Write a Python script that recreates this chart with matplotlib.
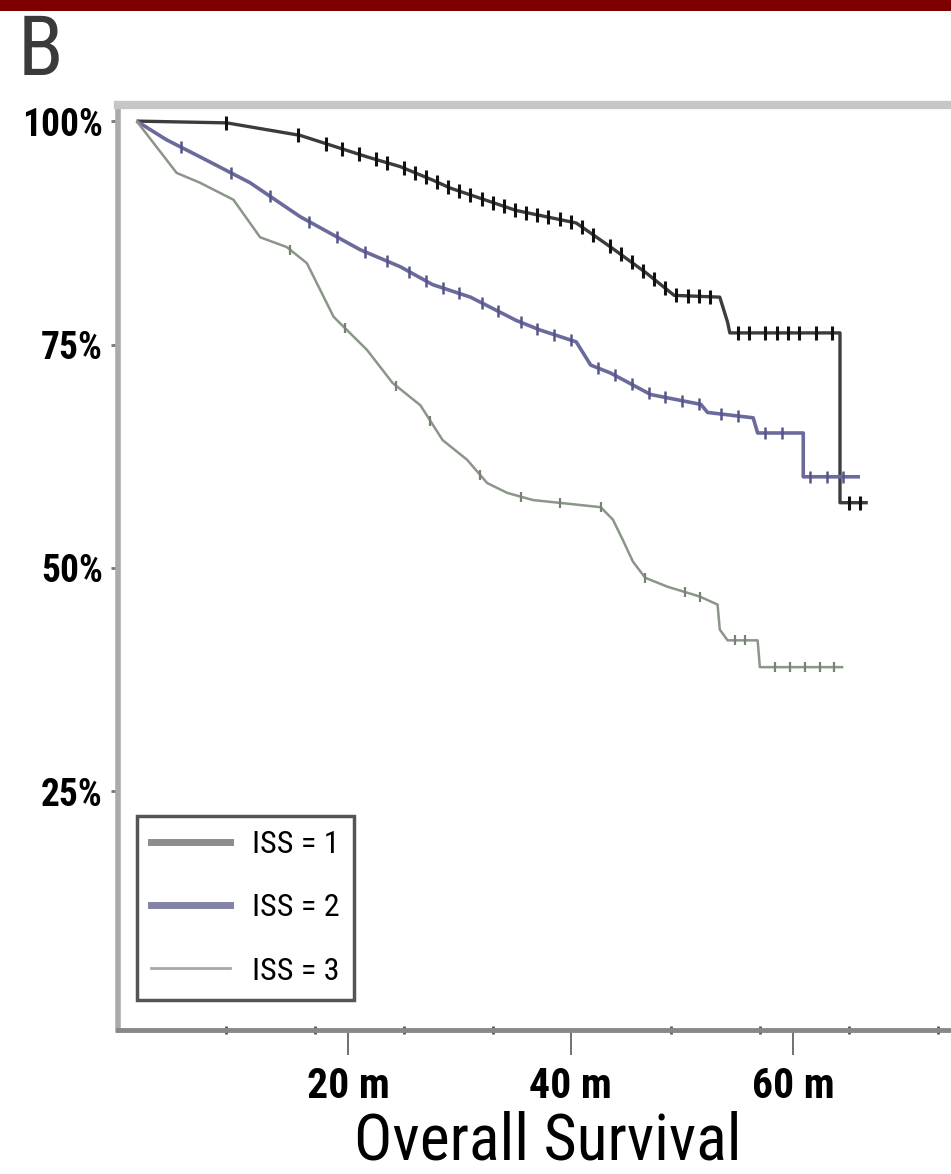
import numpy as np
import matplotlib.pyplot as plt
from matplotlib.patches import Rectangle
from matplotlib.lines import Line2D

# Kaplan-Meier estimates (months, % surviving), ISS stage 1..3
iss1_t = [1.0, 9.1, 15.7, 21.7, 24.7, 27.6, 29.2, 35.1, 40.5, 43.6, 46.8, 49.3,
          53.4, 54.1, 54.3, 64.2, 64.2, 66.7]
iss1_s = [100, 99.8, 98.4, 96.0, 94.9, 93.4, 92.5, 90.0, 88.6, 85.9, 83.0, 80.5,
          80.3, 77.5, 76.3, 76.3, 57.3, 57.3]

iss2_t = [1.0, 3.7, 6.7, 11.2, 15.7, 21.1, 24.7, 27.6, 31.0, 35.1, 37.3, 40.5,
          41.8, 43.6, 47.2, 51.7, 52.3, 56.4, 56.8, 60.9, 60.9, 66.0]
iss2_s = [100, 97.9, 96.0, 93.1, 89.3, 85.6, 83.7, 81.7, 80.3, 77.7, 76.6, 75.3,
          72.7, 71.8, 69.4, 68.3, 67.4, 66.8, 65.1, 65.1, 60.2, 60.2]

iss3_t = [1.0, 2.8, 4.6, 6.7, 9.7, 12.1, 14.5, 16.3, 17.5, 18.7, 21.7, 24.0,
          26.5, 28.5, 30.7, 32.5, 34.3, 36.6, 42.7, 43.8, 44.7, 45.6, 46.7, 48.7,
          51.6, 53.2, 53.4, 54.1, 56.8, 57.0, 64.5]
iss3_s = [100, 97.1, 94.2, 93.1, 91.2, 87.0, 85.9, 84.1, 81.1, 78.1, 74.4, 70.7,
          68.2, 64.3, 62.1, 59.5, 58.4, 57.6, 56.8, 55.4, 53.1, 50.7, 48.9, 47.9,
          46.8, 45.9, 43.1, 41.9, 41.9, 38.9, 38.9]

# censored observations (months)
iss1_cens = [9.0, 15.5, 18.0, 19.5, 21.0, 22.5, 23.5, 25.0, 26.0, 27.0, 28.0,
             29.0, 30.0, 31.0, 32.0, 33.0, 34.0, 35.0, 36.0, 37.0, 38.0, 39.0,
             40.0, 41.0, 42.0, 43.5, 44.5, 45.5, 46.5, 47.5, 48.5, 49.5, 50.5,
             51.5, 52.5, 55.0, 56.0, 57.5, 58.5, 59.5, 60.5, 62.0, 63.5, 65.0, 66.0]
iss2_cens = [5.0, 9.5, 13.0, 16.5, 19.0, 21.5, 23.5, 25.5, 27.0, 28.5, 30.0,
             32.0, 33.5, 35.5, 37.0, 38.5, 40.0, 42.5, 44.0, 45.5, 47.0, 48.5,
             50.0, 51.5, 53.5, 55.0, 57.5, 59.0, 61.5, 63.0, 64.5]
iss3_cens = [14.8, 19.7, 24.3, 27.4, 31.9, 35.5, 39.0, 42.7, 46.7, 50.3, 51.6,
             54.8, 55.7, 58.4, 59.7, 61.1, 62.4, 63.7]

labels = ["ISS = 1", "ISS = 2", "ISS = 3"]
y_ticks = [25, 50, 75, 100]
y_ticklabels = ["25%", "50%", "75%", "100%"]
x_ticks = [20, 40, 60]
x_ticklabels = ["20 m", "40 m", "60 m"]
x_minor = [9, 17, 25, 33, 49, 57, 65, 73]

plt.rcParams['font.family'] = ['Roboto Condensed', 'DejaVu Sans']

W, H = 951, 1174
fig = plt.figure(figsize=(W / 100, H / 100), dpi=100)

# red strip along the top edge
fig.patches.append(Rectangle((0, 1 - 11 / H), 1, 11 / H, transform=fig.transFigure,
                             facecolor='#7f0000', edgecolor='none'))
fig.text(18 / W, 1 - 12 / H, "B", fontsize=60, color='#3a3a3a', va='top', ha='left')

ax = fig.add_axes([118 / W, 1 - 1030 / H, 860 / W, 925 / H])

series = [
    (iss1_t, iss1_s, iss1_cens, '#3c3c3c', '#111111', 2.4, 10, 2.2),
    (iss2_t, iss2_s, iss2_cens, '#6b6b9b', '#55558a', 2.6, 8, 1.8),
    (iss3_t, iss3_s, iss3_cens, '#8a9688', '#778275', 1.8, 7, 1.6),
]
for (t, s, cens, col, mcol, lw, ms, mew), lab in zip(series, labels):
    ax.plot(t, s, color=col, lw=lw, label=lab, solid_capstyle='butt')
    cy = np.interp(cens, t, s)
    ax.plot(cens, cy, ls='none', marker='|', ms=ms, mew=mew, color=mcol)

ax.set_xlim(-0.67, 76.6)
ax.set_ylim(-1.7, 101.8)

ax.set_xticks(x_ticks)
ax.set_xticklabels(x_ticklabels, fontsize=30, fontweight='bold')
ax.set_xticks(x_minor, minor=True)
ax.set_yticks(y_ticks)
ax.set_yticklabels(y_ticklabels, fontsize=27, fontweight='bold')

ax.tick_params(axis='x', which='major', length=18, width=1.3, color='#666666',
               direction='out', pad=8)
ax.tick_params(axis='x', which='minor', length=6, width=2, color='#555555',
               direction='inout')
ax.tick_params(axis='y', length=5, width=2, color='#777777', direction='out', pad=6)

ax.spines['left'].set_color('#aaaaaa')
ax.spines['left'].set_linewidth(4)
ax.spines['top'].set_color('#c6c6c6')
ax.spines['top'].set_linewidth(6)
ax.spines['bottom'].set_color('#888888')
ax.spines['bottom'].set_linewidth(3.5)
ax.spines['right'].set_visible(False)

ax.set_xlabel("Overall Survival", fontsize=46)
ax.xaxis.label.set_va('baseline')
ax.xaxis.set_label_coords(0.5, -(1159 - 1030) / 925)

# legend keys are drawn lighter than the curves
key_colors = ['#8c8c8c', '#8383a6', '#a3aba1']
key_widths = [5, 5, 2]
keys = [Line2D([], [], color=c, lw=w) for c, w in zip(key_colors, key_widths)]
leg = ax.legend(keys, labels, loc='lower left',
                bbox_to_anchor=(137 / W, 1 - 1000 / H), bbox_transform=fig.transFigure,
                borderaxespad=0, fontsize=23, handlelength=2.45, handletextpad=0.7,
                labelspacing=1.07, borderpad=0.45, fancybox=False, framealpha=1)
leg.get_frame().set_edgecolor('#555555')
leg.get_frame().set_linewidth(2.5)

fig.savefig("out.png", dpi=100)
